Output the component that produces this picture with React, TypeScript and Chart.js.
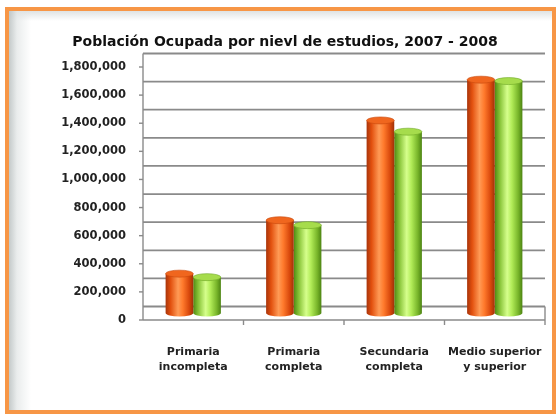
import React, { useEffect, useRef } from "react";
import { Chart, registerables } from "chart.js";

Chart.register(...registerables);

const TITLE = "Población Ocupada por nievl de estudios, 2007 - 2008";
const CATEGORIES: string[][] = [
  ["Primaria", "incompleta"],
  ["Primaria", "completa"],
  ["Secundaria", "completa"],
  ["Medio superior", "y superior"],
];
const SERIES_NAMES = ["2007", "2008"];
const VALUES_2007 = [280000, 660000, 1370000, 1660000];
const VALUES_2008 = [255000, 625000, 1290000, 1650000];
const Y_MIN = 0;
const Y_MAX = 1800000;
const Y_STEP = 200000;

const ORANGE_STOPS: [number, string][] = [
  [0, "#a8340a"],
  [0.18, "#e2500e"],
  [0.45, "#ff9a55"],
  [0.62, "#ff7a2c"],
  [0.85, "#d8480c"],
  [1, "#a03208"],
];
const GREEN_STOPS: [number, string][] = [
  [0, "#4f8a14"],
  [0.18, "#86c236"],
  [0.45, "#d6ff8c"],
  [0.62, "#b2ec58"],
  [0.85, "#78b52a"],
  [1, "#4c8412"],
];
const CAP_COLORS = ["#f0661e", "#a6dc4c"];
const CAP_EDGE = ["#c8480c", "#6fa826"];

const FONT = "'DejaVu Sans', sans-serif";
const BACK = -6.5;
const FRONT = 7;

function makeGrad(c: any, stops: [number, string][]) {
  const chart = c.chart;
  const xs = chart.scales && chart.scales.x;
  if (!chart.chartArea || !xs || c.dataIndex === undefined) return stops[2][1];
  const n = CATEGORIES.length;
  const catW = xs.width / n;
  const groupW = catW * 0.55;
  const barW = groupW / 2;
  const center = xs.getPixelForValue(c.dataIndex);
  const left = center - groupW / 2 + c.datasetIndex * barW;
  const g = chart.ctx.createLinearGradient(left, 0, left + barW, 0);
  stops.forEach(([o, col]) => g.addColorStop(o, col));
  return g;
}

const frame3d = {
  id: "frame3d",
  beforeDatasetsDraw(chart: any) {
    const ctx = chart.ctx;
    const ys = chart.scales.y;
    const { left, right } = chart.chartArea;
    const y0 = ys.getPixelForValue(Y_MIN);
    ctx.save();
    ctx.strokeStyle = "#8a8a8a";
    ctx.lineWidth = 1.8;
    // back wall gridlines
    ys.ticks.forEach((t: any) => {
      const y = ys.getPixelForValue(t.value) + BACK;
      ctx.beginPath();
      ctx.moveTo(left, y);
      ctx.lineTo(right, y);
      ctx.stroke();
    });
    // front floor edge
    ctx.lineWidth = 1.4;
    ctx.beginPath();
    ctx.moveTo(left, y0 + FRONT);
    ctx.lineTo(right, y0 + FRONT);
    ctx.stroke();
    // right floor edge
    ctx.beginPath();
    ctx.moveTo(right, y0 + BACK);
    ctx.lineTo(right, y0 + FRONT);
    ctx.stroke();
    // left axis
    ctx.beginPath();
    ctx.moveTo(left, ys.getPixelForValue(Y_MAX) + BACK);
    ctx.lineTo(left, y0 + FRONT);
    ctx.stroke();
    // y tick marks
    ys.ticks.forEach((t: any) => {
      const y = ys.getPixelForValue(t.value) + FRONT;
      ctx.beginPath();
      ctx.moveTo(left - 4, y);
      ctx.lineTo(left, y);
      ctx.stroke();
    });
    // x tick marks at category boundaries
    const n = CATEGORIES.length;
    for (let i = 1; i <= n; i++) {
      const x = left + (i * (right - left)) / n;
      ctx.beginPath();
      ctx.moveTo(x, y0 + FRONT);
      ctx.lineTo(x, y0 + FRONT + 5);
      ctx.stroke();
    }
    ctx.restore();
  },
  afterDatasetsDraw(chart: any) {
    const ctx = chart.ctx;
    ctx.save();
    chart.data.datasets.forEach((_: any, di: number) => {
      const meta = chart.getDatasetMeta(di);
      meta.data.forEach((el: any) => {
        const p = el.getProps(["x", "y", "width", "base"], true);
        const rx = p.width / 2;
        // bottom rounding
        ctx.beginPath();
        ctx.ellipse(p.x, p.base, rx, 3.5, 0, 0, Math.PI);
        ctx.fillStyle = el.options.backgroundColor;
        ctx.fill();
        // top cap
        ctx.beginPath();
        ctx.ellipse(p.x, p.y, rx, 3.5, 0, 0, Math.PI * 2);
        ctx.fillStyle = CAP_COLORS[di];
        ctx.fill();
        ctx.strokeStyle = CAP_EDGE[di];
        ctx.lineWidth = 0.6;
        ctx.stroke();
      });
    });
    ctx.restore();
  },
};

export default function App() {
  const ref = useRef<HTMLCanvasElement | null>(null);

  useEffect(() => {
    if (!ref.current) return;
    const chart = new Chart(ref.current, {
      type: "bar",
      data: {
        labels: CATEGORIES,
        datasets: [
          {
            label: SERIES_NAMES[0],
            data: VALUES_2007,
            backgroundColor: (c: any) => makeGrad(c, ORANGE_STOPS),
            borderWidth: 0,
            barPercentage: 1,
            categoryPercentage: 0.55,
          },
          {
            label: SERIES_NAMES[1],
            data: VALUES_2008,
            backgroundColor: (c: any) => makeGrad(c, GREEN_STOPS),
            borderWidth: 0,
            barPercentage: 1,
            categoryPercentage: 0.55,
          },
        ],
      },
      options: {
        responsive: false,
        animation: false,
        layout: { padding: { left: 25, right: 14, top: 0, bottom: 41.5 } },
        plugins: {
          legend: { display: false },
          tooltip: { enabled: false },
          title: {
            display: true,
            text: TITLE,
            color: "#111111",
            font: { family: FONT, size: 14, weight: "bold" },
            padding: { top: 33.6, bottom: 9.6 },
          },
        },
        scales: {
          x: {
            grid: {
              display: true,
              drawOnChartArea: false,
              drawTicks: true,
              tickLength: 29,
              color: "rgba(0,0,0,0)",
            },
            border: { display: false },
            afterFit: (s: any) => {
              s.height = 61.5;
            },
            ticks: {
              color: "#222222",
              font: { family: FONT, size: 11, weight: "bold", lineHeight: 1.36 },
              padding: 3,
              maxRotation: 0,
            },
          },
          y: {
            min: Y_MIN,
            max: Y_MAX,
            grid: { display: false, drawTicks: false },
            border: { display: false },
            afterFit: (s: any) => {
              s.width = 118;
            },
            ticks: {
              stepSize: Y_STEP,
              labelOffset: FRONT,
              padding: 17,
              color: "#222222",
              font: { family: FONT, size: 11.5, weight: "bold" },
              callback: (v: any) => Number(v).toLocaleString("en-US"),
            },
          },
        },
      },
      plugins: [frame3d],
    });
    return () => chart.destroy();
  }, []);

  return (
    <div
      style={{
        position: "fixed",
        left: 0,
        top: 0,
        width: 559,
        height: 416,
        background: "#ffffff",
        overflow: "hidden",
      }}
    >
      <div
        style={{
          position: "absolute",
          left: 5,
          top: 7,
          width: 551,
          height: 407,
          boxSizing: "border-box",
          border: "4px solid #f79646",
          background:
            "linear-gradient(to right, rgba(190,196,196,0.9) 0px, rgba(225,229,229,0.7) 8px, rgba(255,255,255,0) 22px), linear-gradient(to bottom, rgba(215,220,220,0.8) 0px, rgba(255,255,255,0) 10px), #ffffff",
        }}
      />
      <canvas
        ref={ref}
        width={559}
        height={416}
        style={{ position: "absolute", left: 0, top: 0 }}
      />
    </div>
  );
}
